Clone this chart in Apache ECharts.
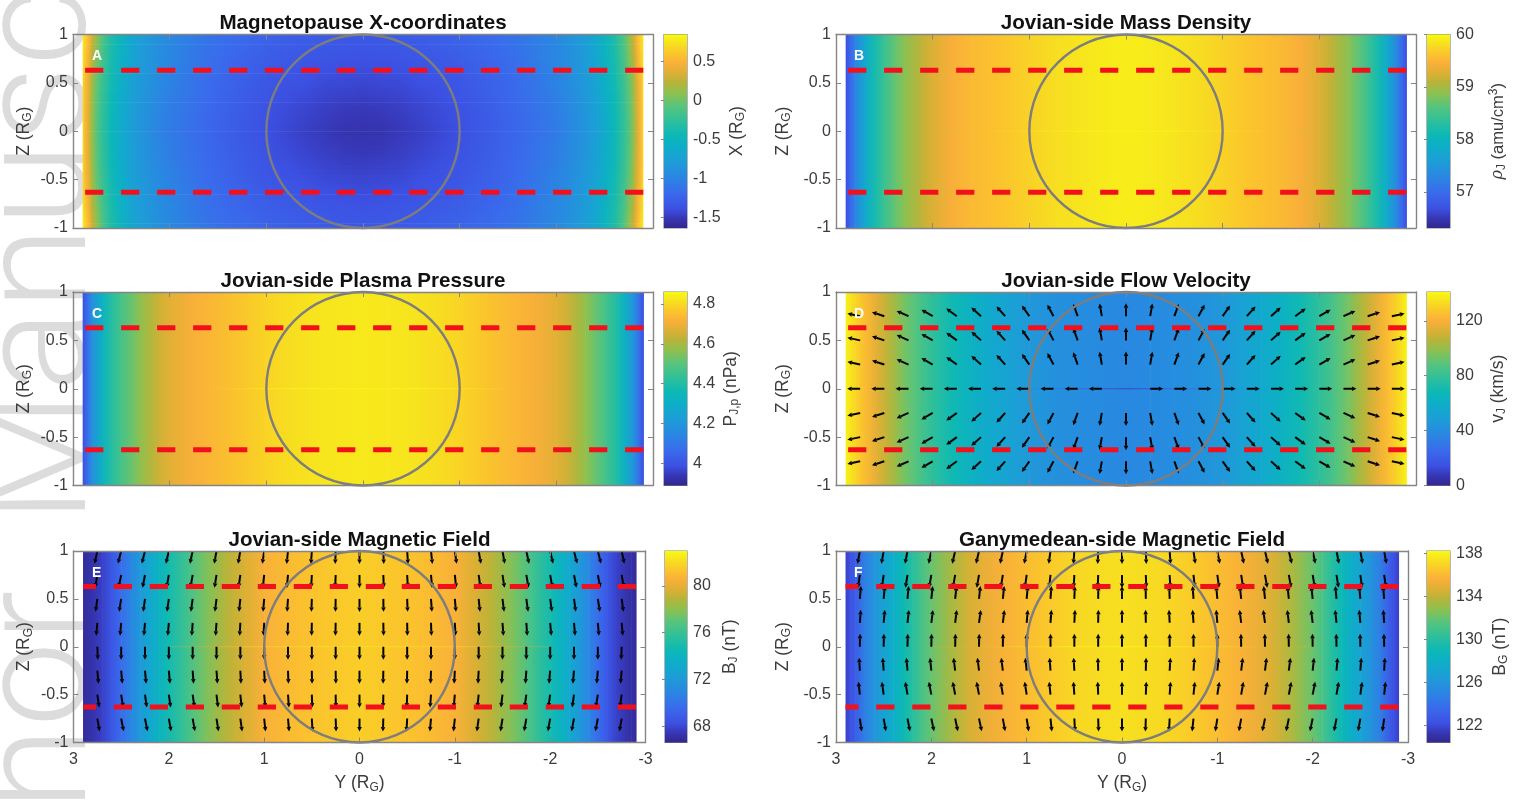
<!DOCTYPE html>
<html><head><meta charset="utf-8">
<style>html,body{margin:0;padding:0;background:#fff}#c{width:1526px;height:801px}</style>
<script src="https://cdn.jsdelivr.net/npm/echarts@6/dist/echarts.min.js"></script>
</head><body><div id="c"></div>
<script>
// ---- titles, labels, ticks
const titles = ['Magnetopause X-coordinates','Jovian-side Mass Density','Jovian-side Plasma Pressure','Jovian-side Flow Velocity','Jovian-side Magnetic Field','Ganymedean-side Magnetic Field'];
const panelLetters = ['A','B','C','D','E','F'];
const barTicks = [[-1.5,-1,-0.5,0,0.5],[57,58,59,60],[4,4.2,4.4,4.6,4.8],[0,40,80,120],[68,72,76,80],[122,126,130,134,138]];
const barLimits = [[-1.64,0.85],[56.31,60],[3.888,4.86],[0,141],[66.6,83],[120.4,138.2]];
const barNames = ['{a|X (R}{s|G}{a|)}','{i|ρ}{s|J}{b| (amu/cm}{u|3}{b|)}','{a|P}{s|J,p}{a| (nPa)}','{a|v}{s|J}{a| (km/s)}','{a|B}{s|J}{a| (nT)}','{a|B}{s|G}{a| (nT)}'];

// ---- colour scale
const colorStops = [[0,'#33278c'],[0.05,'#3636b4'],[0.1,'#3c50e2'],[0.18,'#3a6aec'],[0.26,'#2a86e2'],[0.35,'#1c9fd6'],[0.42,'#0daec8'],[0.48,'#0cb8b6'],[0.55,'#2cbf9c'],[0.63,'#58c47c'],[0.7,'#90c04e'],[0.75,'#b6b43a'],[0.8,'#dcb034'],[0.85,'#f9af3a'],[0.9,'#fbc52c'],[0.95,'#f7df20'],[1,'#f8fa14']];

// ---- panel profiles: |Y| nodes and values
const profileY = [2.9,2.85,2.8,2.7,2.6,2.5,2.4,2.3,2.2,2.1,2,1.8,1.6,1.4,1.2,1,0.75,0.5,0.25,0];
const massDensity = [56.68,56.97,57.27,57.79,58.16,58.45,58.67,58.86,59.0,59.15,59.26,59.45,59.54,59.59,59.65,59.72,59.80,59.85,59.89,59.91];
const plasmaPressure = [3.985,4.08,4.18,4.32,4.41,4.47,4.52,4.57,4.61,4.65,4.675,4.71,4.73,4.75,4.77,4.79,4.81,4.82,4.826,4.83];
const flowVelocity = [139,135,131,124,116,109,102,94.5,89,83,78,69,62,56,51,46,42,40,39,37.5];
const jovianField = [66.9,67.1,67.25,67.75,68.6,69.7,70.9,72,73,74,74.8,76.3,77.75,78.9,79.7,80.6,81,81.3,81.5,81.6];
const ganymedeField = [121.65,122.2,122.9,124.7,125.9,127,127.9,129,130,131.1,132,133.4,134.5,135.2,135.7,136.1,136.6,137,137.2,137.3];

// ---- thin row of cells along Z = 0
const zeroRowY = [2,1.5,1,0.5,0];
const zeroMass = [59.26,59.59,59.8,59.93,59.97];
const zeroPressure = [4.675,4.75,4.83,4.85,4.855];
const zeroFlow = [78,55,42,25,10];
const zeroJovian = [76.3,79.5,81.6,82,82.3];
const zeroGanymede = [133,135,137,137.8,138];

// ---- magnetopause X: rows at |Z| = 1, .75, .5, .25, 0
const xColumnsY = [2.9,2.87,2.83,2.8,2.75,2.7,2.6,2.5,2.4,2.3,2.2,2,1.8,1.6,1.4,1.2,1,0.8,0.6,0.4,0.2,0];
const xRowZ100 = [0.78,0.68,0.50,0.30,0.10,-0.10,-0.35,-0.52,-0.67,-0.77,-0.84,-0.97,-1.04,-1.12,-1.17,-1.20,-1.24,-1.27,-1.29,-1.30,-1.32,-1.32];
const xRowZ075 = [0.74,0.60,0.42,0.22,0.03,-0.15,-0.38,-0.55,-0.70,-0.80,-0.87,-0.99,-1.07,-1.15,-1.20,-1.25,-1.29,-1.32,-1.34,-1.36,-1.37,-1.38];
const xRowZ050 = [0.70,0.53,0.35,0.15,-0.05,-0.20,-0.42,-0.59,-0.72,-0.82,-0.89,-1.02,-1.10,-1.18,-1.24,-1.29,-1.34,-1.37,-1.39,-1.42,-1.43,-1.44];
const xRowZ025 = [0.69,0.51,0.32,0.12,-0.08,-0.23,-0.45,-0.62,-0.75,-0.85,-0.92,-1.05,-1.13,-1.20,-1.26,-1.32,-1.37,-1.41,-1.44,-1.47,-1.49,-1.50];
const xRowZ000 = [0.68,0.50,0.30,0.10,-0.10,-0.25,-0.47,-0.64,-0.77,-0.87,-0.94,-1.07,-1.14,-1.22,-1.28,-1.34,-1.39,-1.43,-1.47,-1.50,-1.53,-1.54];

// ---- arrows: columns at |Y|, tilt in degrees (+ = tip moves away from Y=0)
const arrowY = [0,0.25,0.5,0.75,1,1.25,1.5,1.75,2,2.25,2.5,2.75];
const flowZ = [0.75,0.5,0.25,-0.25,-0.5,-0.75];
const flowTilt = [0,10,20,28,35,42,48,54,60,66,72,78];
const flowZeroRowLength = [0,13,13,13,13,13,13,13,13,13,13,13];
const bjRows = [
 {z:1,    dir:-1, tilt:[0,2,4,6,8,10,10,12,13,14,14,12]},
 {z:0.75, dir:-1, tilt:[0,2,3,5,6,8,9,10,10,11,11,10]},
 {z:0.5,  dir:-1, tilt:[0,1,2,4,5,6,7,8,8,8,9,8]},
 {z:0.25, dir:-1, tilt:[0,1,1,2,3,3,4,4,5,5,5,5]},
 {z:0,    dir:-1, tilt:[0,0,0,0,0,0,0,0,0,0,0,-2]},
 {z:-0.25,dir:-1, tilt:[0,-1,-1,-2,-3,-3,-4,-4,-5,-5,-5,-5]},
 {z:-0.5, dir:-1, tilt:[0,-1,-2,-4,-5,-6,-7,-8,-8,-8,-9,-8]},
 {z:-0.75,dir:-1, tilt:[0,-2,-3,-5,-6,-8,-9,-10,-10,-11,-11,-10]}
];
const bgRows = [
 {z:1,    dir:-1, tilt:[0,2,4,8,11,12,13,13,12,11,10,10]},
 {z:0.75, dir:-1, tilt:[0,2,3,6,8,9,10,10,10,9,8,8]},
 {z:0.5,  dir:1,  tilt:[0,-1,-2,-4,-5,-6,-6,-6,-6,-5,-5,-5]},
 {z:0.25, dir:1,  tilt:[0,-1,-3,-4,-5,-7,-8,-7,-7,-6,-5,-4]},
 {z:0,    dir:1,  tilt:[0,0,0,0,0,-1,-1,-1,-1,-1,-1,-1]},
 {z:-0.25,dir:1,  tilt:[0,1,3,4,6,7,7,7,6,5,4,3]},
 {z:-0.5, dir:1,  tilt:[0,2,4,6,9,10,11,11,11,10,8,6]},
 {z:-0.75,dir:-1, tilt:[0,-2,-3,-6,-9,-10,-12,-12,-12,-11,-10,-8]}
];
const dashZ = [0.63,-0.63];
const dashYEnds = [-2.9,2.9];
const circle = [[0,0,1]];

// ---- layout
const panels = [
 {l:73,  r:653,  t:34.5, b:228,  bl:664,  br:687,  gap:40, zg:39, lx:92,  ly:49,  xl:false},
 {l:836, r:1416, t:34.5, b:228,  bl:1427, br:1450, gap:38, zg:43, lx:854, ly:49,  xl:false},
 {l:73,  r:653,  t:292,  b:485.5,bl:664,  br:687,  gap:34, zg:39, lx:92,  ly:307, xl:false},
 {l:836, r:1416, t:292,  b:485.5,bl:1427, br:1450, gap:38, zg:43, lx:854, ly:307, xl:false},
 {l:73.5,r:645.5,t:551,  b:742.5,bl:665,  br:687,  gap:33, zg:39, lx:92,  ly:566, xl:true},
 {l:836, r:1408, t:551,  b:742.5,bl:1427, br:1450, gap:40, zg:43, lx:854, ly:566, xl:true}
];
const textColor = '#3c3c3c', boxColor = '#858585', fontFamily = '"Liberation Sans",Arial,sans-serif';
const richText = {
 a:{fontSize:17.5,color:textColor,fontFamily},
 b:{fontSize:16.5,color:textColor,fontFamily},
 i:{fontSize:16,color:textColor,fontFamily:'"DejaVu Serif",serif',fontStyle:'italic'},
 s:{fontSize:12,color:textColor,fontFamily,padding:[8,0,0,0]},
 u:{fontSize:12,color:textColor,fontFamily,padding:[0,0,8,0]}
};

function colorAt(f){
  f = Math.max(0,Math.min(1,f));
  for(let i=1;i<colorStops.length;i++){
    if(f<=colorStops[i][0]){
      const [a,ca]=colorStops[i-1],[b,cb]=colorStops[i];
      return echarts.color.lerp((f-a)/(b-a),[ca,cb]);
    }
  }
  return colorStops[colorStops.length-1][1];
}
const grids=[],xAxes=[],yAxes=[],series=[],titleOpt=[],graphics=[];

function stripSeries(ax,ys,vals,lim,zHalf,z){
  const data=[];
  for(let j=0;j<ys.length-1;j++){ for(const s of [1,-1]) data.push([s*ys[j],s*ys[j+1],vals[j],vals[j+1]]); }
  const col=v=>colorAt((v-lim[0])/(lim[1]-lim[0]));
  return {type:'custom',xAxisIndex:ax.x,yAxisIndex:ax.y,silent:true,z:z,clip:false,data,
    renderItem(p,api){
      const a=api.coord([api.value(0),zHalf]),b=api.coord([api.value(1),-zHalf]);
      const lr=a[0]<b[0];
      return {type:'rect',shape:{x:Math.min(a[0],b[0]),y:a[1],width:Math.abs(b[0]-a[0])+0.6,height:Math.max(b[1]-a[1],1)},
        style:{fill:new echarts.graphic.LinearGradient(lr?0:1,0,lr?1:0,0,[{offset:0,color:col(api.value(2))},{offset:1,color:col(api.value(3))}])}};
    }};
}
function bandSeries(ax,ys,rows,rowZ,lim){
  // the surface is painted as thin horizontal bands, each shaded along Y from the rows on either side of it
  const bandZ=[];
  for(let k=0;k<40;k++) bandZ.push([1-k*0.05,1-(k+1)*0.05]);
  const col=v=>colorAt((v-lim[0])/(lim[1]-lim[0]));
  const rowAt=(az,j)=>{
    for(let r=0;r<rowZ.length-1;r++){
      if(az<=rowZ[r]&&az>=rowZ[r+1]){const t=(rowZ[r]-az)/(rowZ[r]-rowZ[r+1]);return rows[r][j]*(1-t)+rows[r+1][j]*t;}
    }
    return rows[rows.length-1][j];
  };
  const edge=ys[0];
  return {type:'custom',xAxisIndex:ax.x,yAxisIndex:ax.y,silent:true,z:2,clip:false,data:bandZ,
    renderItem(p,api){
      const zt=api.value(0),zb=api.value(1),a=api.coord([edge,zt]),b=api.coord([-edge,zb]);
      const az=Math.abs((zt+zb)/2),stops=[];
      ys.forEach((y,j)=>{stops.push({offset:(edge-y)/(2*edge),color:col(rowAt(az,j))}); if(y>0) stops.push({offset:(edge+y)/(2*edge),color:col(rowAt(az,j))});});
      stops.sort((x,y)=>x.offset-y.offset);
      return {type:'rect',shape:{x:a[0],y:a[1],width:b[0]-a[0],height:b[1]-a[1]+0.6},
        style:{fill:new echarts.graphic.LinearGradient(0,0,1,0,stops)}};
    }};
}
function arrowSeries(ax,data){
  return {type:'custom',xAxisIndex:ax.x,yAxisIndex:ax.y,silent:true,z:3,clip:false,data,
    renderItem(p,api){
      const Y=api.value(0),Z=api.value(1),t=api.value(2)*Math.PI/180,dir=api.value(3),L=api.value(4);
      const o=api.coord([Y,Z]), sx=Y>0?-1:1;
      const dx=dir===0?sx*L:sx*Math.sin(t)*L, dy=dir===0?0:-dir*Math.cos(t)*L;
      const tip=[o[0]+dx,o[1]+dy],ux=dx/L,uy=dy/L,back=[tip[0]-ux*4.5,tip[1]-uy*4.5],nx=-uy*2.3,ny=ux*2.3;
      return {type:'group',children:[
        {type:'line',shape:{x1:o[0],y1:o[1],x2:back[0],y2:back[1]},style:{stroke:'#050505',lineWidth:2}},
        {type:'polygon',shape:{points:[tip,[back[0]+nx,back[1]+ny],[back[0]-nx,back[1]-ny]]},style:{fill:'#050505'}}
      ]};
    }};
}
function rowsToArrows(rows){
  const d=[];
  rows.forEach(r=>arrowY.forEach((y,k)=>{ d.push([y,r.z,r.tilt[k],r.dir,13]); if(k>0) d.push([-y,r.z,r.tilt[k],r.dir,13]); }));
  return d;
}
function flowArrows(){
  const d=[];
  flowZ.forEach(z=>arrowY.forEach((y,k)=>{ d.push([y,z,flowTilt[k],z>0?1:-1,13]); if(k>0) d.push([-y,z,flowTilt[k],z>0?1:-1,13]); }));
  arrowY.forEach((y,k)=>{ if(flowZeroRowLength[k]>0){ d.push([y,0,0,0,flowZeroRowLength[k]]); d.push([-y,0,0,0,flowZeroRowLength[k]]); } });
  return d;
}

panels.forEach((P,i)=>{
  grids.push({left:P.l,top:P.t,width:P.r-P.l,height:P.b-P.t,containLabel:false});
  const g=grids.length-1;
  const axisLine={show:true,onZero:false,lineStyle:{color:boxColor,width:1.4}};
  const axisTick={show:true,inside:true,length:5,lineStyle:{color:boxColor,width:1}};
  const labelSt={color:textColor,fontSize:16,fontFamily};
  const xIdx=xAxes.length, yIdx=yAxes.length;
  xAxes.push({type:'value',gridIndex:g,position:'bottom',min:-3,max:3,interval:1,inverse:true,z:6,axisLine,axisTick,splitLine:{show:false},
    axisLabel:{show:P.xl,margin:9,...labelSt},
    name:P.xl?'{a|Y (R}{s|G}{a|)}':'',nameLocation:'middle',nameGap:31,nameMoveOverlap:false,nameTextStyle:{rich:richText}});
  xAxes.push({type:'value',gridIndex:g,position:'top',min:-3,max:3,interval:1,inverse:true,z:6,axisLine,axisTick,splitLine:{show:false},axisLabel:{show:false}});
  yAxes.push({type:'value',gridIndex:g,position:'left',min:-1,max:1,interval:0.5,z:6,axisLine,axisTick,splitLine:{show:false},
    axisLabel:{margin:5,...labelSt},
    name:'{a|Z (R}{s|G}{a|)}',nameLocation:'middle',nameGap:P.zg,nameRotate:90,nameMoveOverlap:false,nameTextStyle:{rich:richText}});
  yAxes.push({type:'value',gridIndex:g,position:'right',min:-1,max:1,interval:0.5,z:6,axisLine,axisTick,splitLine:{show:false},axisLabel:{show:false}});
  const ax={x:xIdx,y:yIdx}, lim=barLimits[i];
  if(i===0) series.push(bandSeries(ax,xColumnsY,[xRowZ100,xRowZ075,xRowZ050,xRowZ025,xRowZ000],[1,0.75,0.5,0.25,0],lim));
  if(i===1) { series.push(stripSeries(ax,profileY,massDensity,lim,1,2)); series.push(stripSeries(ax,zeroRowY,zeroMass,lim,0.006,2)); }
  if(i===2) { series.push(stripSeries(ax,profileY,plasmaPressure,lim,1,2)); series.push(stripSeries(ax,zeroRowY,zeroPressure,lim,0.006,2)); }
  if(i===3) { series.push(stripSeries(ax,profileY,flowVelocity,lim,1,2)); series.push(stripSeries(ax,zeroRowY,zeroFlow,lim,0.006,2)); series.push(arrowSeries(ax,flowArrows())); }
  if(i===4) { series.push(stripSeries(ax,profileY,jovianField,lim,1,2)); series.push(stripSeries(ax,zeroRowY,zeroJovian,lim,0.006,2)); series.push(arrowSeries(ax,rowsToArrows(bjRows))); }
  if(i===5) { series.push(stripSeries(ax,profileY,ganymedeField,lim,1,2)); series.push(stripSeries(ax,zeroRowY,zeroGanymede,lim,0.006,2)); series.push(arrowSeries(ax,rowsToArrows(bgRows))); }
  dashZ.forEach(z=>series.push({type:'line',xAxisIndex:ax.x,yAxisIndex:ax.y,z:4,silent:true,showSymbol:false,clip:false,
    data:[[dashYEnds[0],z],[dashYEnds[1],z]],lineStyle:{color:'#f2101c',width:5,type:[18.2,17.8]}}));
  series.push({type:'custom',xAxisIndex:ax.x,yAxisIndex:ax.y,z:5,silent:true,clip:false,data:circle,
    renderItem(p,api){
      const c=api.coord([api.value(0),api.value(1)]),e=api.coord([api.value(0)+api.value(2),api.value(1)+api.value(2)]);
      return {type:'ellipse',shape:{cx:c[0],cy:c[1],rx:Math.abs(e[0]-c[0]),ry:Math.abs(e[1]-c[1])},style:{fill:'none',stroke:'#7d7d7d',lineWidth:2.4}};
    }});
  titleOpt.push({text:titles[i],left:(P.l+P.r)/2,top:P.t-21.5,padding:0,textAlign:'center',textStyle:{fontSize:20.6,fontWeight:'bold',color:'#111',fontFamily}});
  graphics.push({type:'text',z:50,silent:true,left:P.lx,top:P.ly,style:{text:panelLetters[i],fill:'#fff',font:'bold 14px '+fontFamily}});

  // colour bar
  grids.push({left:P.bl,top:P.t,width:P.br-P.bl,height:P.b-P.t,show:true,borderColor:boxColor,borderWidth:1.2,backgroundColor:'transparent'});
  const gb=grids.length-1, bx=xAxes.length, by=yAxes.length;
  xAxes.push({type:'value',gridIndex:gb,min:0,max:1,show:false});
  yAxes.push({type:'value',gridIndex:gb,position:'right',min:lim[0],max:lim[1],z:6,
    axisLine:{show:false},splitLine:{show:false},
    axisTick:{show:true,inside:true,length:3,lineStyle:{color:boxColor},customValues:barTicks[i]},
    axisLabel:{margin:6,...labelSt,customValues:barTicks[i]},
    name:barNames[i],nameLocation:'middle',nameGap:P.gap,nameRotate:90,nameMoveOverlap:false,nameTextStyle:{rich:richText}});
  series.push({type:'custom',xAxisIndex:bx,yAxisIndex:by,silent:true,z:2,clip:false,data:[[0,lim[0],1,lim[1]]],
    renderItem(p,api){
      const a=api.coord([api.value(0),api.value(3)]),b=api.coord([api.value(2),api.value(1)]);
      return {type:'rect',shape:{x:a[0],y:a[1],width:b[0]-a[0],height:b[1]-a[1]},
        style:{fill:new echarts.graphic.LinearGradient(0,1,0,0,colorStops.map(s=>({offset:s[0],color:s[1]})))}};
    }});
});

// faint rotated lettering behind the figure
const watermark=[{text:'Author',y:1037},{text:'Manuscript',y:523}];
watermark.forEach(w=>graphics.push({type:'text',z:-5,silent:true,x:123,y:w.y,rotation:Math.PI/2,
  style:{text:w.text,fill:'#dcdcdc',font:'300 152px Roboto,"Liberation Sans",sans-serif',textVerticalAlign:'bottom'}}));

const chart=echarts.init(document.getElementById('c'),null,{renderer:'canvas'});
chart.setOption({animation:false,backgroundColor:'#fff',tooltip:{show:false},title:titleOpt,grid:grids,xAxis:xAxes,yAxis:yAxes,series,graphic:{elements:graphics}});
</script></body></html>
